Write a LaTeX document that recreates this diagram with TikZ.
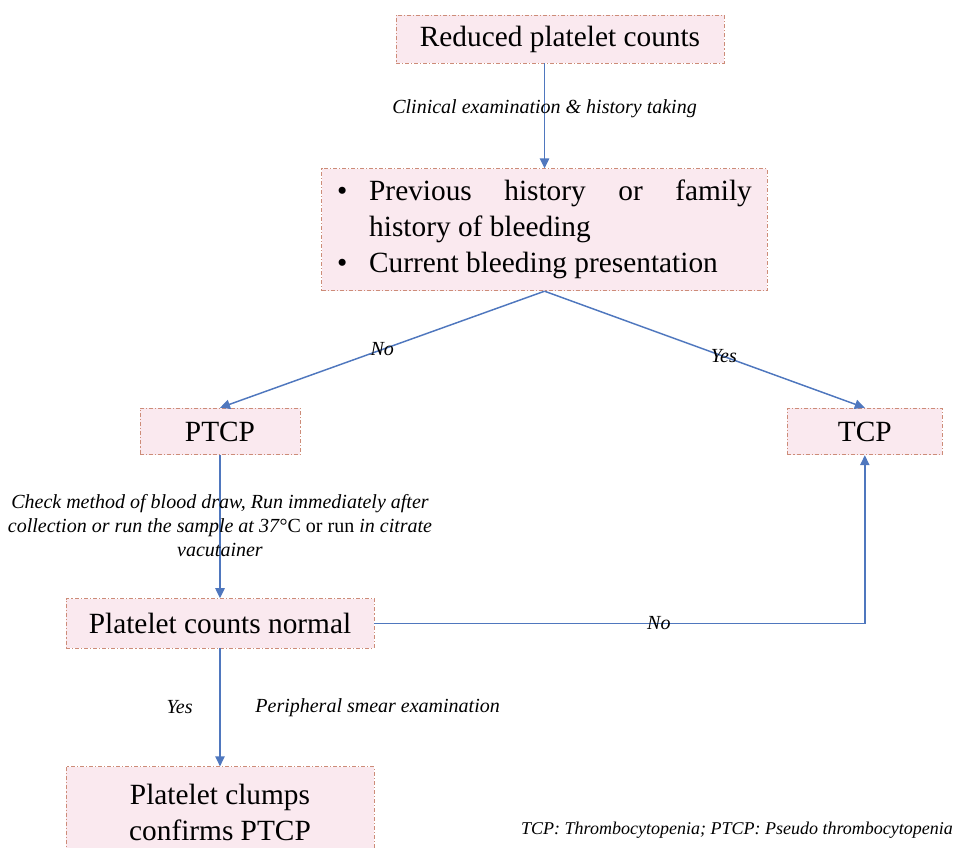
\documentclass[tikz,border=0pt]{standalone}
\usepackage{fontspec}
\setmainfont{Liberation Serif}
\usepackage{xcolor}
\usetikzlibrary{arrows.meta, positioning}
\definecolor{boxpink}{RGB}{250,233,239}
\definecolor{boxedge}{RGB}{205,140,120}
\definecolor{linkblue}{RGB}{79,119,190}
\tikzstyle{pinkbox} = [rectangle, draw=boxedge, fill=boxpink, line width=0.6pt, dash pattern=on 3pt off 1.5pt on 0.8pt off 1.5pt, font=\fontsize{22}{27}\selectfont, align=center, inner sep=0pt]
\tikzstyle{arrow} = [draw=linkblue, line width=1.1pt, -{Triangle[length=7.5pt,width=7pt]}]
\tikzstyle{note} = [font=\fontsize{15}{18}\selectfont\itshape, inner sep=1pt, align=center]

\begin{document}
\begin{tikzpicture}[x=0.75pt, y=-0.75pt]
        \useasboundingbox (0,0) rectangle (955,848);
        % Nodes
        \node (reduced) [pinkbox, minimum width=246pt, minimum height=36pt] at (560,39) {Reduced platelet counts};
        \node (history) [pinkbox, minimum width=334pt, minimum height=91.5pt, text width=311pt, align=justify, below=78.75pt of reduced, xshift=-11.6pt] {%
            \hyphenpenalty=10000\hbadness=10000
            \hangindent=24pt\hangafter=1\noindent\makebox[24pt][l]{\textbullet}Previous history or family history of bleeding\par
            \noindent\makebox[24pt][l]{\textbullet}Current bleeding presentation};
        \node (ptcp) [pinkbox, minimum width=120pt, minimum height=35pt] at (220,431.5) {PTCP};
        \node (tcp) [pinkbox, minimum width=116pt, minimum height=35pt, right=365pt of ptcp] {TCP};
        \node (normal) [pinkbox, minimum width=231pt, minimum height=37pt, below=107.25pt of ptcp] {Platelet counts normal};
        \node (clumps) [pinkbox, minimum width=231pt, minimum height=68pt, below=88.5pt of normal] {Platelet clumps\\confirms PTCP};
        \node (abbrev) [note, font=\fontsize{13.5}{16}\selectfont\itshape] at (737,830) {TCP: Thrombocytopenia; PTCP: Pseudo thrombocytopenia};

        % Arrows
        \draw [arrow] (history.north |- reduced.south) -- node [note, pos=0.43] {Clinical examination \& history taking} (history.north);
        \draw [arrow] (history.south) -- node [note, pos=0.5] {No} (ptcp.north);
        \draw [arrow] (history.south) -- node [note, pos=0.56] {Yes} (tcp.north);
        \draw [arrow] (ptcp.south) -- node [note, pos=0.49] {Check method of blood draw, Run immediately after\\collection or run the sample at 37\textup{°C or run} in citrate\\vacutainer} (ptcp.south |- normal.north);
        \draw [arrow] (normal.east) -- node [note, pos=0.58] {No} (normal.east -| tcp.south) -- (tcp.south);
        \draw [arrow] (normal.south) -- node [note, pos=0.5, left=19pt] {Yes} node [note, pos=0.5, right=25pt] {Peripheral smear examination} (normal.south |- clumps.north);
    \end{tikzpicture}
\end{document}
